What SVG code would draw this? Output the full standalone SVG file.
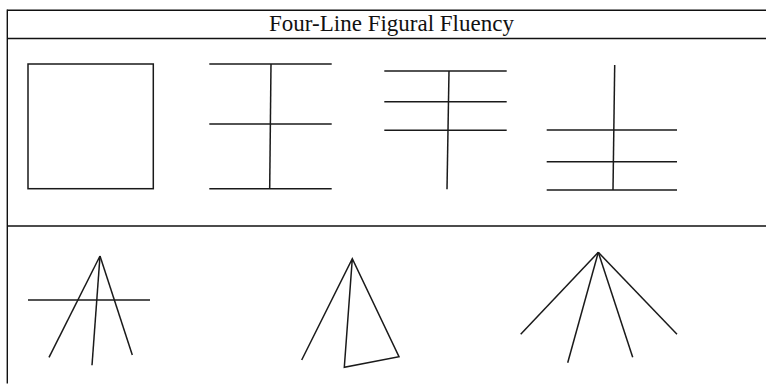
<svg xmlns="http://www.w3.org/2000/svg" width="766" height="387" viewBox="0 0 766 387">
<style>
.rule{stroke:#111;stroke-width:1.4;fill:none}
.fig{stroke:#1a1a1a;stroke-width:1.5;fill:none;stroke-linecap:butt;stroke-linejoin:miter}
.title{font-family:"Liberation Serif","Times New Roman",serif;font-size:23px;fill:#111}
</style>
<rect width="766" height="387" fill="#fff"/>
<g id="table">
<line class="rule" x1="7.3" y1="10.3" x2="766" y2="10.3"/>
<line class="rule" x1="7.3" y1="38.5" x2="766" y2="38.5"/>
<line class="rule" x1="7.3" y1="226" x2="766" y2="226"/>
<line class="rule" x1="7.3" y1="9.6" x2="7.3" y2="383.5"/>
</g>
<g id="header">
<text class="title" x="391.5" y="30.5" text-anchor="middle">Four-Line Figural Fluency</text>
</g>
<g id="fig1">
<rect class="fig" x="28" y="64" width="125.3" height="124.7"/>
</g>
<g id="fig2">
<line class="fig" x1="209.3" y1="64" x2="331.7" y2="64"/>
<line class="fig" x1="209.3" y1="124" x2="331.7" y2="124"/>
<line class="fig" x1="209.3" y1="188.7" x2="331.7" y2="188.7"/>
<line class="fig" x1="271" y1="64" x2="269.7" y2="188.7"/>
</g>
<g id="fig3">
<line class="fig" x1="384.3" y1="71" x2="506.7" y2="71"/>
<line class="fig" x1="384.3" y1="101.7" x2="506.7" y2="101.7"/>
<line class="fig" x1="384.3" y1="130.3" x2="506.7" y2="130.3"/>
<line class="fig" x1="449" y1="71" x2="447" y2="189.3"/>
</g>
<g id="fig4">
<line class="fig" x1="546.7" y1="130" x2="677" y2="130"/>
<line class="fig" x1="546.7" y1="161.7" x2="677" y2="161.7"/>
<line class="fig" x1="546.7" y1="190" x2="677" y2="190"/>
<line class="fig" x1="614.7" y1="65" x2="613" y2="190"/>
</g>
<g id="fig5">
<line class="fig" x1="28" y1="300" x2="150" y2="300"/>
<line class="fig" x1="100" y1="256" x2="49" y2="357.3"/>
<line class="fig" x1="100" y1="256" x2="92" y2="365.3"/>
<line class="fig" x1="100" y1="256" x2="132.3" y2="355"/>
</g>
<g id="fig6">
<polyline class="fig" points="301.7,360 352.3,258.7 399,356.7 344.3,367.3 352.3,258.7"/>
</g>
<g id="fig7">
<line class="fig" x1="598.3" y1="252.3" x2="520.7" y2="334.3"/>
<line class="fig" x1="598.3" y1="252.3" x2="567.7" y2="362.7"/>
<line class="fig" x1="598.3" y1="252.3" x2="632.7" y2="357.3"/>
<line class="fig" x1="598.3" y1="252.3" x2="677" y2="334.3"/>
</g>
</svg>
